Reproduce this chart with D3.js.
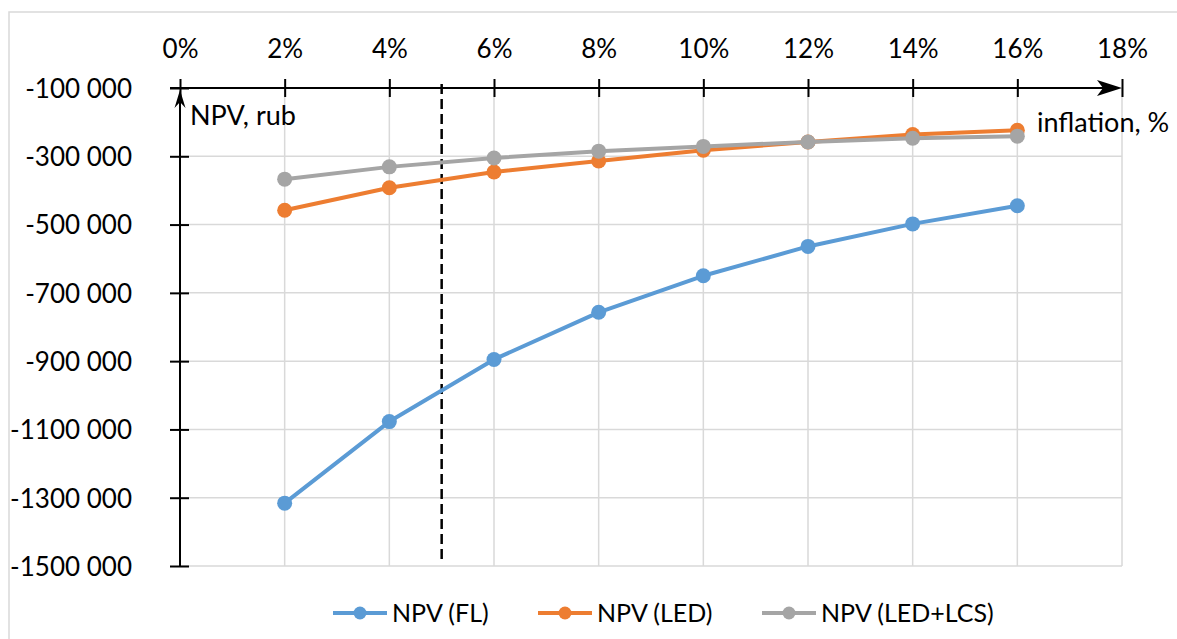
<!DOCTYPE html>
<html>
<head>
<meta charset="utf-8">
<script src="https://cdn.jsdelivr.net/npm/d3@7"></script>
<style>
  html, body { margin: 0; padding: 0; background: #fff; }
  svg { display: block; }
  text { font-family: Lato, "Open Sans", sans-serif; fill: #000; }
</style>
</head>
<body>
<svg id="chart" width="1177" height="639"></svg>
<script>
// ---- data ----
const inflation = [2, 4, 6, 8, 10, 12, 14, 16];
const npvFL     = [-1316000, -1077000, -895000, -757000, -650000, -564000, -498000, -445000];
const npvLED    = [-458000, -392000, -346000, -314000, -282000, -258000, -236000, -224000];
const npvLEDLCS = [-367000, -331000, -305000, -285000, -271000, -258000, -247000, -241000];
const seriesNames = ["NPV (FL)", "NPV (LED)", "NPV (LED+LCS)"];
const seriesColors = ["#5b9bd5", "#ed7d31", "#a5a5a5"];
const xTicks = [0, 2, 4, 6, 8, 10, 12, 14, 16, 18];
const xTickLabels = ["0%", "2%", "4%", "6%", "8%", "10%", "12%", "14%", "16%", "18%"];
const yTicks = [-100000, -300000, -500000, -700000, -900000, -1100000, -1300000, -1500000];
const yTickLabels = ["-100 000", "-300 000", "-500 000", "-700 000", "-900 000", "-1100 000", "-1300 000", "-1500 000"];
const markerInflation = 5;
const yAxisTitle = "NPV, rub";
const xAxisTitle = "inflation, %";

const svg = d3.select("#chart");

// outer border
svg.append("rect").attr("x", 9).attr("y", 12).attr("width", 1200).attr("height", 700)
  .attr("fill", "none").attr("stroke", "#d9d9d9").attr("stroke-width", 1.5);

const x = d3.scaleLinear().domain([0, 18]).range([180, 1122]);
const y = d3.scaleLinear().domain([-1500000, -100000]).range([566, 88]);

// grid
const grid = svg.append("g");
grid.selectAll("line.h").data(yTicks.slice(1)).join("line")
  .attr("x1", x(0)).attr("x2", x(18)).attr("y1", d => y(d)).attr("y2", d => y(d))
  .attr("stroke", "#d9d9d9").attr("stroke-width", 1.5);
grid.selectAll("line.v").data(xTicks.slice(1)).join("line")
  .attr("x1", d => x(d)).attr("x2", d => x(d)).attr("y1", y(-100000)).attr("y2", y(-1500000))
  .attr("stroke", "#d9d9d9").attr("stroke-width", 1.5);

// x axis (top)
const xAxis = d3.axisTop(x).tickValues(xTicks).tickFormat((d, i) => xTickLabels[i]).tickSizeOuter(0);
const gx = svg.append("g").attr("transform", `translate(0,${y(-100000)})`).call(xAxis);
gx.select(".domain").remove();
gx.selectAll(".tick line").attr("y1", -9).attr("y2", 9).attr("stroke", "#000").attr("stroke-width", 2);
gx.selectAll(".tick text").attr("y", -30).attr("dy", 0).attr("font-size", 26)
  .style("font-family", "Lato, 'Open Sans', sans-serif").attr("fill", "#000");
svg.append("line").attr("x1", 170).attr("x2", x(18) - 4).attr("y1", y(-100000)).attr("y2", y(-100000))
  .attr("stroke", "#000").attr("stroke-width", 2);
// x arrow
const ax = x(18), ay = y(-100000);
svg.append("path")
  .attr("d", `M${ax},${ay} L${ax - 25},${ay - 8} L${ax - 19},${ay} L${ax - 25},${ay + 8} Z`)
  .attr("fill", "#000");

// y axis (left)
const yAxis = d3.axisLeft(y).tickValues(yTicks).tickFormat((d, i) => yTickLabels[i]).tickSizeOuter(0);
const gy = svg.append("g").attr("transform", `translate(${x(0)},0)`).call(yAxis);
gy.select(".domain").remove();
gy.selectAll(".tick line").attr("x1", -10).attr("x2", 9).attr("stroke", "#000").attr("stroke-width", 2);
gy.selectAll(".tick text").attr("x", -48).attr("dy", "0.36em").attr("font-size", 26)
  .style("font-family", "Lato, 'Open Sans', sans-serif").attr("fill", "#000");
svg.append("line").attr("x1", x(0)).attr("x2", x(0)).attr("y1", y(-1500000)).attr("y2", y(-100000) + 8)
  .attr("stroke", "#000").attr("stroke-width", 2);
// y arrow
const bx = x(0), by = y(-100000) + 2;
svg.append("path")
  .attr("d", `M${bx},${by} L${bx - 5.5},${by + 18} L${bx},${by + 12} L${bx + 5.5},${by + 18} Z`)
  .attr("fill", "#000");

// axis titles
svg.append("text").attr("x", 190).attr("y", 125).attr("font-size", 27).text(yAxisTitle);
svg.append("text").attr("x", 1037).attr("y", 132).attr("font-size", 27).text(xAxisTitle);

// dashed marker line
svg.append("line").attr("x1", x(markerInflation)).attr("x2", x(markerInflation))
  .attr("y1", 84).attr("y2", 562)
  .attr("stroke", "#000").attr("stroke-width", 2.5).attr("stroke-dasharray", "10,5");

// series
const allSeries = [npvFL, npvLED, npvLEDLCS];
const line = d3.line().x(d => x(d[0])).y(d => y(d[1]));
allSeries.forEach((vals, si) => {
  const pts = inflation.map((v, i) => [v, vals[i]]);
  const g = svg.append("g");
  g.append("path").datum(pts).attr("d", line).attr("fill", "none")
    .attr("stroke", seriesColors[si]).attr("stroke-width", 4).attr("stroke-linejoin", "round");
  g.selectAll("circle").data(pts).join("circle")
    .attr("cx", d => x(d[0])).attr("cy", d => y(d[1])).attr("r", 7.5)
    .attr("fill", seriesColors[si]);
});

// legend
const legendX = [333, 538, 762];
const ly = 613;
seriesNames.forEach((name, i) => {
  const g = svg.append("g").attr("transform", `translate(${legendX[i]},${ly})`);
  g.append("line").attr("x1", 0).attr("x2", 54).attr("y1", 0).attr("y2", 0)
    .attr("stroke", seriesColors[i]).attr("stroke-width", 4);
  g.append("circle").attr("cx", 27).attr("cy", 0).attr("r", 6.5).attr("fill", seriesColors[i]);
  g.append("text").attr("x", 59).attr("y", 0).attr("dy", "0.36em").attr("font-size", 25).text(name);
});
</script>
</body>
</html>
